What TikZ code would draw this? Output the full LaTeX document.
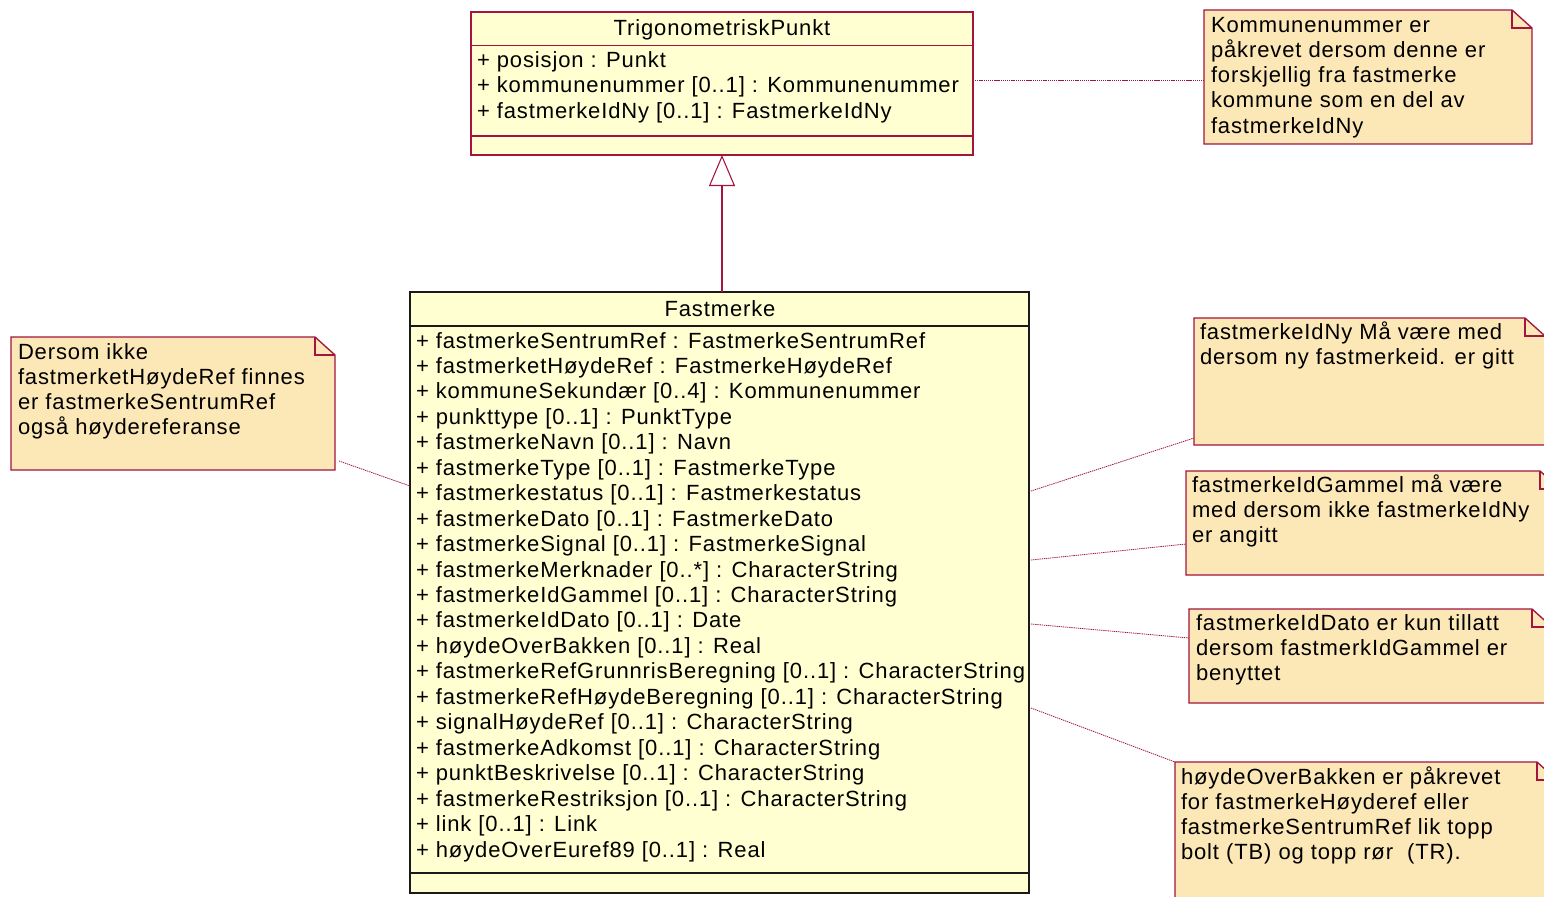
\documentclass[tikz,border=0pt]{standalone}
\usepackage{fontspec}
\setmainfont{Liberation Sans}[LetterSpace=4]
\usetikzlibrary{calc,arrows.meta}
\definecolor{rose}{HTML}{A3143F}
\definecolor{clsfill}{HTML}{FFFFD2}
\definecolor{notefill}{HTML}{FCE7B7}
\definecolor{clsdark}{HTML}{1A1A1A}
\newcommand\mynote[5]{%
  \path[fill=notefill,draw=rose,line width=1pt] (#2,#3) -- ({#4-20},#3) -- (#4,{#3+18}) -- (#4,#5) -- (#2,#5) -- cycle;
  \draw[rose,line width=0.8pt] ({#4-20},#3) -- ({#4-20},{#3+18}) -- (#4,{#3+18});
  \node[inner sep=0pt,outer sep=0pt,minimum width={(#4-#2)*0.75pt},minimum height={(#5-#3)*0.75pt},anchor=north west] (#1) at (#2,#3) {};
}
\begin{document}
\begin{tikzpicture}[x=0.75pt,y=-0.75pt,
  txt/.style={anchor=base west,inner sep=0pt,outer sep=0pt,font=\fontsize{16.5}{19}\selectfont},
  ttl/.style={anchor=base,inner sep=0pt,outer sep=0pt,font=\fontsize{16.5}{19}\selectfont},
  box/.style={inner sep=0pt,outer sep=0pt,anchor=north west,line width=1pt},
  conn/.style={draw=rose,dash pattern=on 1pt off 0.6pt,line width=0.6pt}
]
\useasboundingbox (0,0) rectangle (1544,896);
\clip (0,0) rectangle (1544,896);

% TrigonometriskPunkt
\node[box,draw=rose,fill=clsfill,minimum width={502*0.75pt},minimum height={143*0.75pt}] (tp) at (471,12) {};
\draw[rose,line width=1pt] (471,45.5) -- (973,45.5);
\draw[rose,line width=1pt] (471,136) -- (973,136);
\node[ttl] (tpn) at (722,35) {TrigonometriskPunkt};
\foreach \t [count=\i from 0] in {{+ posisjon : Punkt},{+ kommunenummer [0..1] : Kommunenummer},{+ fastmerkeIdNy [0..1] : FastmerkeIdNy}}
  \node[txt] (tpa\i) at (477,{67+25.5*\i}) {\t};

% Fastmerke
\node[box,draw=clsdark,fill=clsfill,minimum width={619*0.75pt},minimum height={601*0.75pt}] (fm) at (410,292) {};
\draw[clsdark,line width=1pt] (410,326) -- (1029,326);
\draw[clsdark,line width=1pt] (410,873) -- (1029,873);
\node[ttl] (fmn) at (720,316) {Fastmerke};
\foreach \t [count=\i from 0] in {
 {+ fastmerkeSentrumRef : FastmerkeSentrumRef},
 {+ fastmerketHøydeRef : FastmerkeHøydeRef},
 {+ kommuneSekundær [0..4] : Kommunenummer},
 {+ punkttype [0..1] : PunktType},
 {+ fastmerkeNavn [0..1] : Navn},
 {+ fastmerkeType [0..1] : FastmerkeType},
 {+ fastmerkestatus [0..1] : Fastmerkestatus},
 {+ fastmerkeDato [0..1] : FastmerkeDato},
 {+ fastmerkeSignal [0..1] : FastmerkeSignal},
 {+ fastmerkeMerknader [0..*] : CharacterString},
 {+ fastmerkeIdGammel [0..1] : CharacterString},
 {+ fastmerkeIdDato [0..1] : Date},
 {+ høydeOverBakken [0..1] : Real},
 {+ fastmerkeRefGrunnrisBeregning [0..1] : CharacterString},
 {+ fastmerkeRefHøydeBeregning [0..1] : CharacterString},
 {+ signalHøydeRef [0..1] : CharacterString},
 {+ fastmerkeAdkomst [0..1] : CharacterString},
 {+ punktBeskrivelse [0..1] : CharacterString},
 {+ fastmerkeRestriksjon [0..1] : CharacterString},
 {+ link [0..1] : Link},
 {+ høydeOverEuref89 [0..1] : Real}}
  \node[txt] (fma\i) at (416,{348+25.45*\i}) {\t};

% generalization
\draw[rose,line width=0.8pt,-{Triangle[open,length={31*0.75pt},width={26*0.75pt},fill=white]}] (tp.south |- fm.north) -- (tp.south);

% notes
\mynote{n1}{1204}{10}{1532}{144}
\foreach \t [count=\i from 0] in {{Kommunenummer er},{påkrevet dersom denne er},{forskjellig fra fastmerke},{kommune som en del av},{fastmerkeIdNy}}
  \node[txt] (n1t\i) at (1211,{32+25.3*\i}) {\t};

\mynote{nl}{11}{337}{335}{470}
\foreach \t [count=\i from 0] in {{Dersom ikke},{fastmerketHøydeRef finnes},{er fastmerkeSentrumRef},{også høydereferanse}}
  \node[txt] (nlt\i) at (18,{359+25.3*\i}) {\t};

\mynote{n2}{1194}{318}{1545}{445}
\foreach \t [count=\i from 0] in {{fastmerkeIdNy Må være med},{dersom ny fastmerkeid. er gitt}}
  \node[txt] (n2t\i) at (1200,{339+25.3*\i}) {\t};

\mynote{n3}{1186}{471}{1560}{575}
\foreach \t [count=\i from 0] in {{fastmerkeIdGammel må være},{med dersom ikke fastmerkeIdNy},{er angitt}}
  \node[txt] (n3t\i) at (1192,{492+25.3*\i}) {\t};

\mynote{n4}{1189}{609}{1552}{703}
\foreach \t [count=\i from 0] in {{fastmerkeIdDato er kun tillatt},{dersom fastmerkIdGammel er},{benyttet}}
  \node[txt] (n4t\i) at (1196,{630+25.3*\i}) {\t};

\mynote{n5}{1175}{762}{1557}{930}
\foreach \t [count=\i from 0] in {{høydeOverBakken er påkrevet},{for fastmerkeHøyderef eller},{fastmerkeSentrumRef lik topp},{bolt (TB) og topp rør\ \ (TR).}}
  \node[txt] (n5t\i) at (1181,{784+25.3*\i}) {\t};

% note connectors
\draw[conn] ($(tp.north east)+(2,68)$) -- ($(n1.north west)+(0,70)$);
\draw[conn] ($(nl.south east)+(4,-9)$) -- ($(fm.north west)+(0,194)$);
\draw[conn] ($(fm.north east)+(2,199)$) -- ($(n2.south west)+(0,-7)$);
\draw[conn] ($(fm.north east)+(2,268)$) -- ($(n3.north west)+(0,73)$);
\draw[conn] ($(fm.north east)+(2,332)$) -- ($(n4.north west)+(0,29)$);
\draw[conn] ($(fm.north east)+(2,416)$) -- (n5.north west);
\end{tikzpicture}
\end{document}
